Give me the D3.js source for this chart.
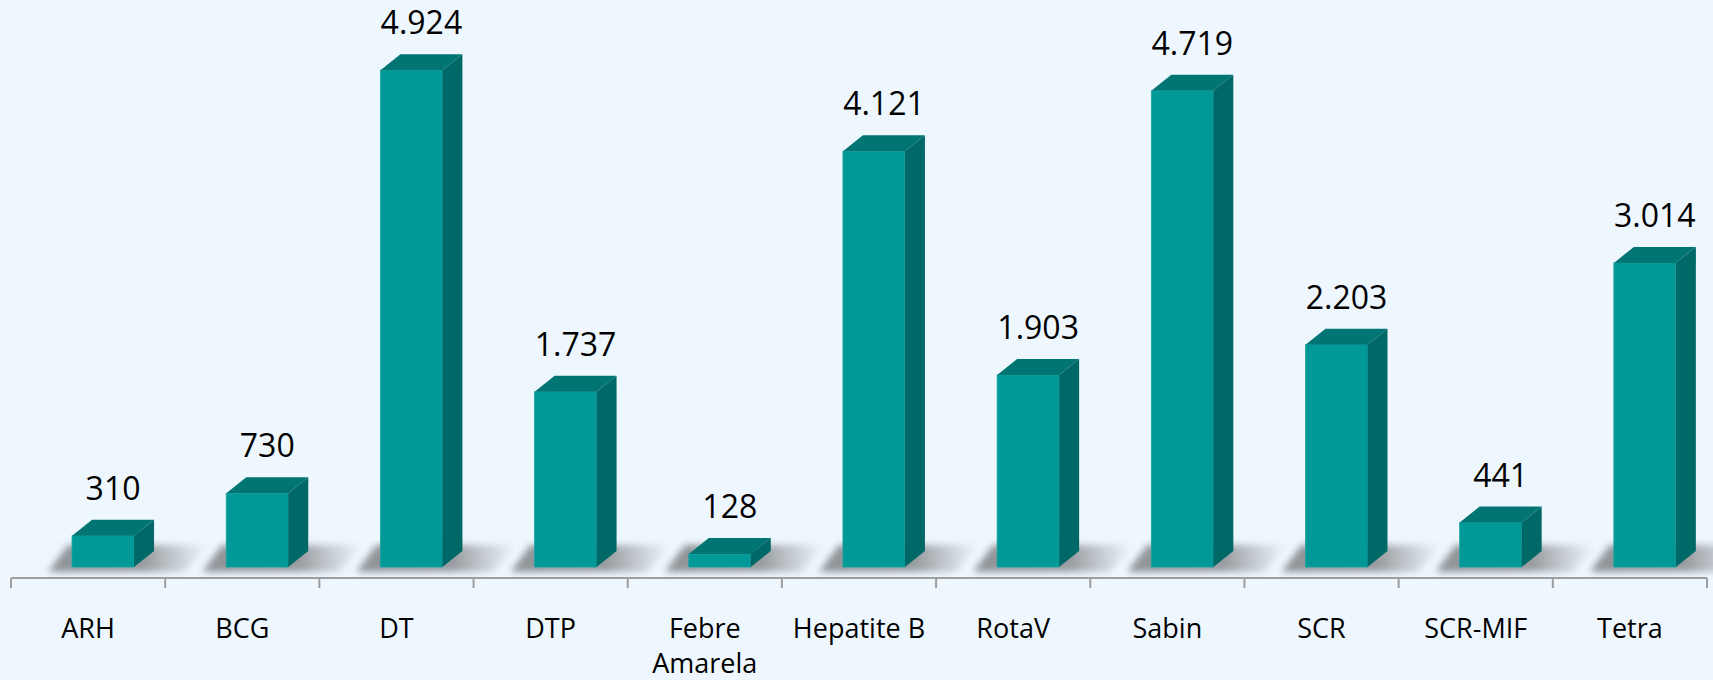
<!DOCTYPE html>
<html>
<head>
<meta charset="utf-8">
<script src="https://cdn.jsdelivr.net/npm/d3@7"></script>
<style>
  html, body { margin: 0; padding: 0; background: #eef7fe; }
  svg { display: block; }
</style>
</head>
<body>
<div id="chart"></div>
<script>

var categories = ["ARH", "BCG", "DT", "DTP", "Febre Amarela", "Hepatite B", "RotaV", "Sabin", "SCR", "SCR-MIF", "Tetra"];
var doses = [310, 730, 4924, 1737, 128, 4121, 1903, 4719, 2203, 441, 3014];

function drawChart() {

    var width = 1713,
        height = 680;

    var floorY = 567,     // front bottom edge of the bars
        axisY = 578;

    var depthX = 20,
        depthY = -16;

    var x = d3.scaleBand()
        .domain(categories)
        .range([11, 1707]);

    var bw = x.bandwidth();
    var faceOffset = bw * 0.396,
        faceWidth = bw * 0.402;

    var y = d3.scaleLinear()
        .domain([0, 5000])
        .range([floorY, floorY - 504.5]);

    var fmt = d3.formatLocale({ decimal: ",", thousands: ".", grouping: [3], currency: ["", ""] }).format(",d");

    var data = categories.map(function (c, i) {
        return { name: c, value: doses[i] };
    });

    var svg = d3.select("#chart")
        .append("svg")
        .attr("width", width)
        .attr("height", height);

    svg.append("rect")
        .attr("width", width)
        .attr("height", height)
        .attr("fill", "#eef7fe");

    var defs = svg.append("defs");
    defs.append("filter")
        .attr("id", "soft")
        .attr("x", "-20%").attr("y", "-50%")
        .attr("width", "140%").attr("height", "200%")
        .append("feGaussianBlur")
        .attr("stdDeviation", 3.5);

    var grad = defs.append("linearGradient")
        .attr("id", "shadowFade")
        .attr("x1", "0").attr("x2", "1")
        .attr("y1", "0").attr("y2", "0");
    grad.append("stop").attr("offset", "0").attr("stop-color", "#8e9397").attr("stop-opacity", 1);
    grad.append("stop").attr("offset", "0.6").attr("stop-color", "#989ca0").attr("stop-opacity", 1);
    grad.append("stop").attr("offset", "1").attr("stop-color", "#a4a8ab").attr("stop-opacity", 0);

    // floor shadows
    svg.append("g")
        .selectAll("polygon")
        .data(data)
        .enter()
        .append("polygon")
        .attr("points", function (d) {
            var L = x(d.name) + faceOffset,
                R = L + faceWidth + depthX;
            return [
                [L - 24, floorY + 5],
                [L - 4, floorY - 22],
                [R + 55, floorY - 22],
                [R + 30, floorY + 5]
            ].join(" ");
        })
        .attr("fill", "url(#shadowFade)")
        .attr("filter", "url(#soft)");

    // axis line and ticks
    var axis = svg.append("g")
        .attr("stroke", "#9e9e9e")
        .attr("stroke-width", 2);

    axis.append("line")
        .attr("x1", x.range()[0])
        .attr("x2", x.range()[1])
        .attr("y1", axisY)
        .attr("y2", axisY);

    var tickPos = categories.map(function (c) { return x(c); }).concat([x.range()[1]]);
    axis.selectAll("line.tick")
        .data(tickPos)
        .enter()
        .append("line")
        .attr("class", "tick")
        .attr("x1", function (d) { return d; })
        .attr("x2", function (d) { return d; })
        .attr("y1", axisY)
        .attr("y2", axisY + 10);

    // 3d bars
    var bars = svg.append("g")
        .selectAll("g")
        .data(data)
        .enter()
        .append("g");

    bars.append("rect")
        .attr("x", function (d) { return x(d.name) + faceOffset; })
        .attr("y", function (d) { return y(d.value); })
        .attr("width", faceWidth)
        .attr("height", function (d) { return floorY - y(d.value); })
        .attr("fill", "#009998")
        .attr("stroke", "#13a3a2")
        .attr("stroke-width", 0.8);

    bars.append("polygon")
        .attr("points", function (d) {
            var L = x(d.name) + faceOffset,
                R = L + faceWidth,
                t = y(d.value);
            return [[L, t], [R, t], [R + depthX, t + depthY], [L + depthX, t + depthY]].join(" ");
        })
        .attr("fill", "#007574");

    bars.append("polygon")
        .attr("points", function (d) {
            var R = x(d.name) + faceOffset + faceWidth,
                t = y(d.value);
            return [[R, t], [R + depthX, t + depthY], [R + depthX, floorY + depthY], [R, floorY]].join(" ");
        })
        .attr("fill", "#006866");

    // value labels
    svg.append("g")
        .selectAll("text")
        .data(data)
        .enter()
        .append("text")
        .attr("x", function (d) { return x(d.name) + faceOffset + faceWidth / 2 + depthX / 2; })
        .attr("y", function (d) { return y(d.value) - 36; })
        .attr("text-anchor", "middle")
        .attr("font-family", "'Open Sans', sans-serif")
        .attr("font-size", 32)
        .attr("fill", "#000")
        .text(function (d) { return fmt(d.value); });

    // category labels (wrap on spaces only for long names)
    var cats = svg.append("g")
        .selectAll("text")
        .data(categories)
        .enter()
        .append("text")
        .attr("x", function (d) { return x(d) + bw / 2; })
        .attr("y", 638)
        .attr("text-anchor", "middle")
        .attr("font-family", "'Open Sans', sans-serif")
        .attr("font-size", 27)
        .attr("fill", "#000");

    cats.each(function (d) {
        var el = d3.select(this);
        var lines = d.length > 11 && d.indexOf(" ") > 0 ? d.split(" ") : [d];
        lines.forEach(function (ln, i) {
            el.append("tspan")
                .attr("x", x(d) + bw / 2)
                .attr("dy", i === 0 ? 0 : 35)
                .text(ln);
        });
    });
}

drawChart();
</script>
</body>
</html>
